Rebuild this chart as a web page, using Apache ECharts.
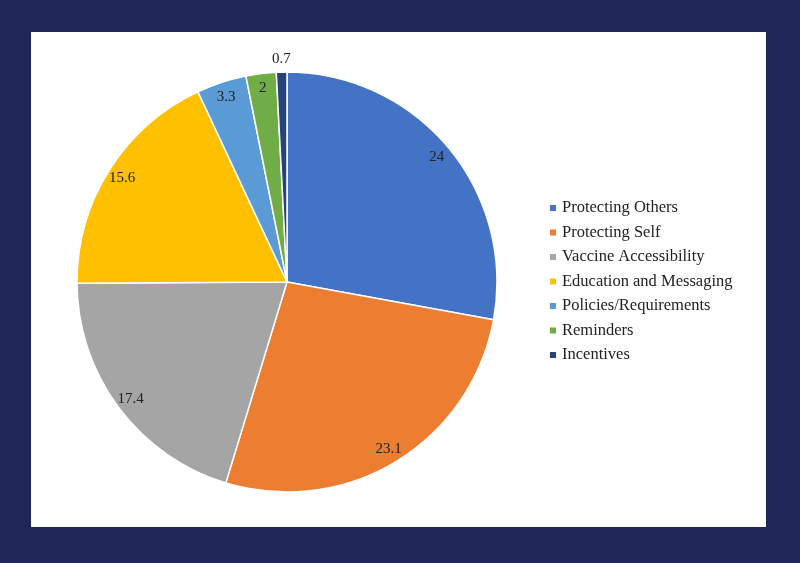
<!DOCTYPE html>
<html>
<head>
<meta charset="utf-8">
<script src="https://cdn.jsdelivr.net/npm/echarts@6/dist/echarts.min.js"></script>
<style>
  html, body { margin: 0; padding: 0; }
  #main { width: 800px; height: 563px; }
</style>
</head>
<body>
<div id="main"></div>
<script>
// reasons / strategies, share in percent
const categories = [
  "Protecting Others",
  "Protecting Self",
  "Vaccine Accessibility",
  "Education and Messaging",
  "Policies/Requirements",
  "Reminders",
  "Incentives",
];
const values = [24, 23.1, 17.4, 15.6, 3.3, 2, 0.7];
const colors = ["#4472C4", "#ED7D31", "#A5A5A5", "#FFC000", "#5B9BD5", "#70AD47", "#264478"];

const serif = "'Liberation Serif', 'DejaVu Serif', serif";
const cx = 287, cy = 282, r = 210;

let pieData = categories.map((name, i) => ({ name: name, value: values[i] }));

// tiny slices get their label just outside the pie, the rest inside near the edge
let innerLabels = categories.map((name, i) => ({
  name: name,
  value: values[i],
  label: { show: values[i] >= 1 },
}));
let outerLabels = categories.map((name, i) => ({
  name: name,
  value: values[i],
  label: { show: values[i] < 1 },
}));

const labelStyle = {
  position: "inside",
  formatter: "{c}",
  fontFamily: serif,
  fontSize: 15,
  color: "#222",
};

let chart = echarts.init(document.getElementById("main"));
let option = {
  backgroundColor: "#1f2757",
  color: colors,
  animation: false,
  graphic: [
    {
      type: "rect",
      shape: { x: 31, y: 32, width: 735, height: 495 },
      style: { fill: "#ffffff" },
      z: -10,
    },
  ],
  legend: {
    orient: "vertical",
    left: 543,
    top: 194,
    icon: "rect",
    itemWidth: 8,
    itemHeight: 8,
    itemGap: 6.5,
    data: categories,
    textStyle: {
      fontFamily: serif,
      fontSize: 16.5,
      lineHeight: 18,
      color: "#222",
    },
  },
  series: [
    {
      type: "pie",
      center: [cx, cy],
      radius: [0, r],
      startAngle: 90,
      clockwise: true,
      data: pieData,
      label: { show: false },
      labelLine: { show: false },
      itemStyle: { borderColor: "#fff", borderWidth: 1.5 },
      emphasis: { disabled: true },
    },
    {
      type: "pie",
      center: [cx, cy],
      radius: [r * 0.83, r],
      startAngle: 90,
      clockwise: true,
      silent: true,
      data: innerLabels,
      itemStyle: { color: "transparent", borderWidth: 0 },
      label: labelStyle,
      labelLine: { show: false },
    },
    {
      type: "pie",
      center: [cx, cy],
      radius: [r, r * 1.1],
      startAngle: 90,
      clockwise: true,
      silent: true,
      data: outerLabels,
      itemStyle: { color: "transparent", borderWidth: 0 },
      label: labelStyle,
      labelLine: { show: false },
    },
  ],
};
option && chart.setOption(option);
</script>
</body>
</html>
